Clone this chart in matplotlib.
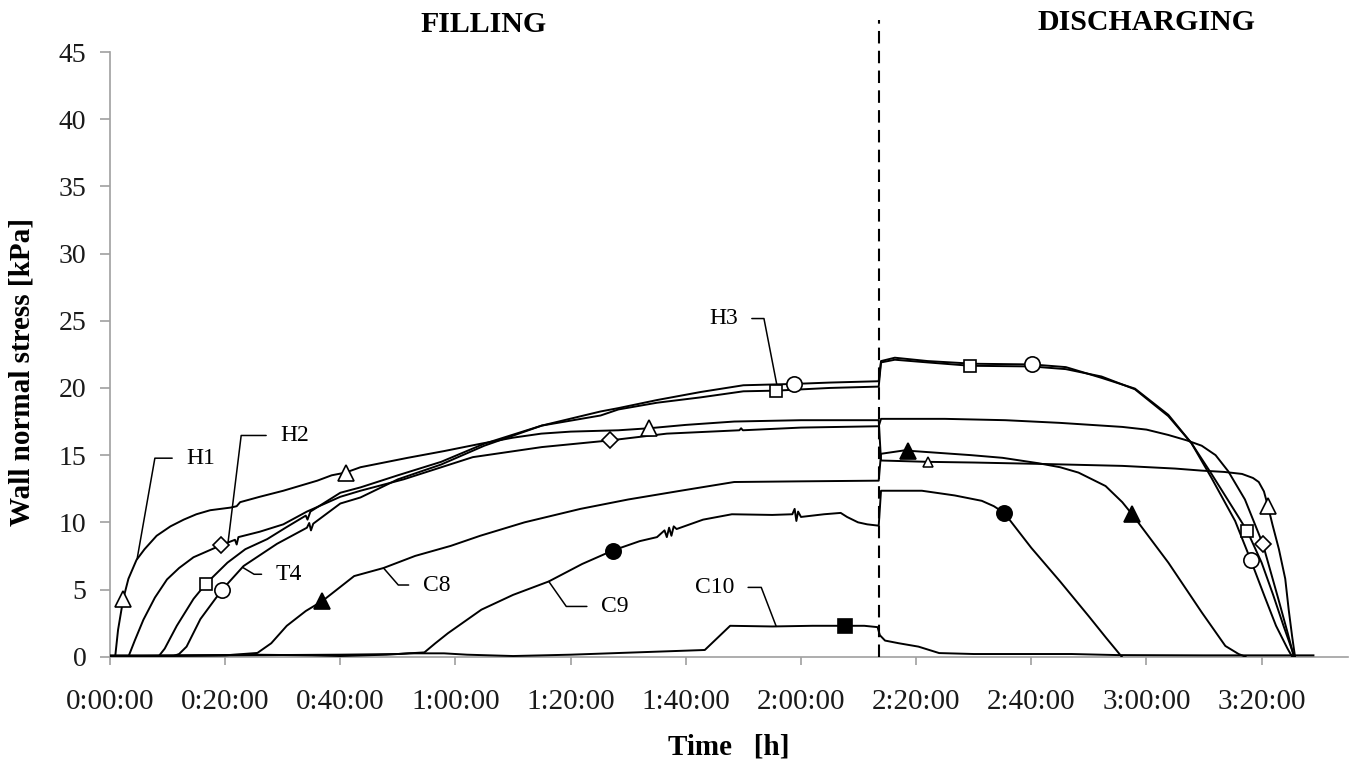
import numpy as np
import matplotlib.pyplot as plt
from matplotlib.ticker import FuncFormatter, MultipleLocator

plt.rcParams['font.family'] = ['Liberation Serif', 'DejaVu Serif']

# time in minutes from start of filling, wall normal stress in kPa
h1_t = [0.9, 1.4, 2.3, 3.2, 4.6, 6.0, 8.1, 10.5, 12.8, 15.0, 17.4, 21.0, 22.0, 22.6, 26.0,
        30.1, 36.0, 38.5, 40.9, 43.5, 51.7, 58.0, 64.4, 70.0, 74.9, 80.0, 88.3, 93.6, 100.0, 108.4,
        120.0, 133.5, 133.9, 142.1, 150.0, 161.2, 175.8, 185.0, 189.5, 193.5, 196.6, 198.5, 199.5,
        200.4, 201.1, 201.9, 203.0, 204.1, 204.7, 205.3, 205.8]
h1_v = [0.0, 2.0, 4.3, 5.8, 7.2, 8.0, 9.0, 9.7, 10.2, 10.6, 10.9, 11.1, 11.2, 11.5, 11.9,
        12.35, 13.1, 13.5, 13.7, 14.1, 14.8, 15.3, 15.85, 16.3, 16.6, 16.75, 16.85, 17.0, 17.25, 17.5,
        17.6, 17.6, 14.6, 14.5, 14.45, 14.35, 14.2, 14.0, 13.85, 13.75, 13.6, 13.3, 13.0,
        12.3, 11.2, 9.8, 8.0, 5.8, 3.5, 1.5, 0.0]

h2_t = [3.2, 4.3, 5.8, 7.8, 9.9, 12.0, 14.5, 19.3, 21.7, 22.0, 22.3, 26.0, 30.1, 34.2, 40.0,
        43.5, 51.0, 63.0, 75.0, 86.9, 96.7, 109.3, 109.6, 109.9, 120.0, 133.5, 133.9, 145.0, 155.5,
        165.0, 175.8, 180.0, 183.8, 187.0, 189.6, 192.0, 194.2, 197.1, 200.2, 202.9, 204.5, 205.6]
h2_v = [0.0, 1.2, 2.75, 4.4, 5.75, 6.6, 7.4, 8.3, 8.7, 8.35, 8.9, 9.3, 9.85, 10.8, 11.9,
        12.35, 13.2, 14.85, 15.6, 16.1, 16.6, 16.85, 17.0, 16.85, 17.05, 17.15, 17.7, 17.7, 17.6,
        17.4, 17.1, 16.9, 16.5, 16.1, 15.7, 15.0, 13.8, 11.7, 8.4, 4.3, 1.8, 0.0]

h3_t = [8.4, 9.5, 11.6, 14.5, 16.6, 20.4, 23.5, 27.3, 30.5, 34.0, 34.3, 34.8, 40.0, 43.5, 50.0,
        57.5, 65.0, 75.0, 85.2, 88.3, 95.0, 102.6, 110.0, 115.7, 125.0, 133.5, 133.9, 136.3, 142.0,
        149.4, 160.0, 166.0, 172.2, 178.0, 183.8, 187.8, 191.3, 195.4, 197.5, 200.0, 202.0, 203.8,
        205.2, 205.7]
h3_v = [0.0, 0.6, 2.3, 4.3, 5.4, 7.0, 8.0, 8.75, 9.6, 10.5, 10.2, 10.8, 12.2, 12.6, 13.5,
        14.5, 15.85, 17.2, 17.95, 18.4, 18.9, 19.3, 19.75, 19.8, 20.0, 20.1, 21.9, 22.1, 21.9,
        21.65, 21.6, 21.4, 20.85, 19.9, 17.9, 15.9, 13.6, 10.8, 9.35, 7.0, 4.6, 2.3,
        0.6, 0.0]

t4_t = [10.7, 12.0, 13.3, 15.7, 19.4, 23.2, 29.0, 34.2, 34.6, 34.9, 35.3, 40.0, 43.5, 50.0, 57.5,
        65.0, 75.0, 85.2, 88.3, 95.0, 102.6, 110.0, 118.8, 125.0, 133.5, 133.9, 136.3, 142.0, 150.0,
        160.1, 166.0, 172.2, 178.0, 183.8, 187.8, 191.3, 195.4, 198.1, 200.5, 202.5, 204.5, 205.3]
t4_v = [0.0, 0.2, 0.75, 2.8, 4.95, 6.75, 8.4, 9.6, 9.95, 9.4, 9.9, 11.4, 11.85, 13.2, 14.3,
        15.7, 17.2, 18.25, 18.5, 19.1, 19.7, 20.2, 20.3, 20.4, 20.5, 22.0, 22.25, 22.0, 21.8,
        21.75, 21.55, 20.75, 19.95, 18.0, 15.9, 13.3, 10.1, 7.2, 4.5, 2.3, 0.6, 0.0]

c8_t = [0, 10, 20, 25.6, 28.0, 30.7, 34.0, 36.9, 42.4, 47.5, 53.0, 59.2, 64.3, 72.0, 81.7,
        90.0, 99.1, 108.4, 120.0, 133.5, 133.9, 137.9, 149.5, 155.0, 161.2, 165.0, 168.2, 172.9,
        175.8, 177.5, 183.8, 189.6, 193.7, 196.0, 197.2]
c8_v = [0.05, 0.05, 0.1, 0.28, 1.0, 2.3, 3.4, 4.15, 6.0, 6.6, 7.5, 8.25, 9.0, 10.0, 11.0,
        11.7, 12.35, 13.0, 13.05, 13.1, 15.1, 15.35, 15.0, 14.8, 14.4, 14.1, 13.7, 12.7,
        11.5, 10.6, 7.0, 3.3, 0.8, 0.2, 0.0]

c9_t = [0, 20, 40, 50, 54.6, 56.5, 58.7, 64.5, 70.0, 76.2, 82.0, 87.3, 92.0, 95.0, 96.3,
        96.7, 97.1, 97.5, 97.9, 98.4, 103.0, 108.0, 115.0, 118.5, 118.9, 119.2, 119.5, 120.0, 124.0,
        126.9, 128.0, 129.9, 131.5, 133.5, 133.9, 141.0, 146.7, 151.4, 153.5, 155.3, 160.0, 165.0,
        170.0, 173.0, 175.7]
c9_v = [0.1, 0.1, 0.15, 0.2, 0.32, 1.0, 1.75, 3.5, 4.6, 5.6, 6.9, 7.9, 8.6, 8.9, 9.4,
        8.9, 9.6, 9.0, 9.7, 9.5, 10.2, 10.6, 10.55, 10.6, 11.0, 10.1, 10.8, 10.4, 10.6,
        10.7, 10.4, 10.0, 9.85, 9.75, 12.35, 12.35, 12.0, 11.6, 11.2, 10.7, 8.1, 5.6,
        3.0, 1.4, 0.0]

c10_t = [0, 5, 15, 25, 35, 40, 48, 52, 58, 62, 70, 80, 90, 100, 103.3,
         107.7, 115.0, 122.0, 127.6, 131.0, 133.3, 133.7, 134.6, 137.0, 140.4, 144.0, 150.0, 167.0,
         175.0, 190.0, 209.0]
c10_v = [0.0, 0.05, 0.1, 0.15, 0.1, 0.05, 0.15, 0.25, 0.25, 0.15, 0.05, 0.15, 0.3, 0.45, 0.5,
         2.3, 2.25, 2.3, 2.3, 2.3, 2.2, 1.6, 1.2, 1.0, 0.75, 0.27, 0.2, 0.2,
         0.12, 0.1, 0.1]

# times where the symbols sit on each curve
h1_marks = [2.3, 40.9, 93.6, 201.1]
h1_small = [142.1]
h2_marks = [19.3, 86.9, 200.2]
h3_marks = [16.6, 115.7, 149.4, 197.5]
t4_marks = [19.4, 118.8, 160.1, 198.1]
c8_marks = [36.9, 138.6, 177.5]
c9_marks = [87.3, 155.3]
c10_marks = [127.6]

discharge_start = 133.5

fig = plt.figure(figsize=(13.58, 7.69), dpi=100)
ax = fig.add_axes([110 / 1358, 1 - 656.7 / 769, 1238 / 1358, 604.7 / 769])

series = [
    (h1_t, h1_v, h1_marks, '^', 'white', 11),
    (h2_t, h2_v, h2_marks, 'D', 'white', 8),
    (h3_t, h3_v, h3_marks, 's', 'white', 9),
    (t4_t, t4_v, t4_marks, 'o', 'white', 11),
    (c8_t, c8_v, c8_marks, '^', 'black', 11),
    (c9_t, c9_v, c9_marks, 'o', 'black', 11),
    (c10_t, c10_v, c10_marks, 's', 'black', 10),
]
for ts, vs, marks, mk, face, size in series:
    ax.plot(ts, vs, color='black', lw=1.4, zorder=3)
    ax.plot(marks, np.interp(marks, ts, vs), linestyle='none', marker=mk, ms=size,
            mfc=face, mec='black', mew=1.2, zorder=5)
ax.plot(h1_small, np.interp(h1_small, h1_t, h1_v), linestyle='none', marker='^', ms=7,
        mfc='white', mec='black', mew=1.1, zorder=5)

ax.axvline(discharge_start, ymin=0, ymax=1.053, color='black', lw=1.5,
           linestyle=(0, (6, 3.5)), clip_on=False, zorder=4)

# curve labels with leader lines: (text, times, values, t on curve, dx, dy, ha, leader angle)
labels = [
    ('H1', h1_t, h1_v, 4.7, 49, 101, 'left', 80),
    ('H2', h2_t, h2_v, 20.5, 52, 107, 'left', 83),
    ('T4', t4_t, t4_v, 23.0, 33, -7, 'left', -31),
    ('H3', h3_t, h3_v, 116.0, -40, 72, 'right', 101),
    ('C8', c8_t, c8_v, 47.5, 39, -17, 'left', -49),
    ('C9', c9_t, c9_v, 76.2, 52, -25, 'left', -55),
    ('C10', c10_t, c10_v, 115.7, -42, 39, 'right', 111),
]
for name, ts, vs, t, dx, dy, ha, ang in labels:
    ax.annotate(name, xy=(t, np.interp(t, ts, vs)), xytext=(dx, dy),
                textcoords='offset pixels', ha=ha, va='center', fontsize=17,
                arrowprops=dict(arrowstyle='-', color='black', lw=1.1, shrinkA=8, shrinkB=0,
                                connectionstyle=f'angle,angleA=0,angleB={ang},rad=0'))

ax.set_xlim(0, 215)
ax.set_ylim(0, 45)
ax.xaxis.set_major_locator(MultipleLocator(20))
ax.yaxis.set_major_locator(MultipleLocator(5))
ax.xaxis.set_major_formatter(FuncFormatter(lambda m, p: f'{int(m) // 60}:{int(m) % 60:02d}:00'))

for side in ['top', 'right']:
    ax.spines[side].set_visible(False)
for side in ['left', 'bottom']:
    ax.spines[side].set_color('#a0a0a0')
    ax.spines[side].set_linewidth(1.2)
ax.tick_params(axis='both', direction='out', color='#a0a0a0', width=1.2, labelcolor='#1a1a1a')
ax.tick_params(axis='x', length=6, pad=17, labelsize=21)
ax.tick_params(axis='y', length=7, pad=10, labelsize=20)

fig.text(22 / 1358, 1 - 372 / 769, 'Wall normal stress [kPa]', rotation=90, ha='center',
         va='center', fontsize=21, fontweight='bold')
fig.text(729 / 1358, 1 - 747 / 769, 'Time   [h]', ha='center', va='center', fontsize=21,
         fontweight='bold')
fig.text(484 / 1358, 1 - 25 / 769, 'FILLING', ha='center', va='center', fontsize=21.5,
         fontweight='bold')
fig.text(1146 / 1358, 1 - 23 / 769, 'DISCHARGING', ha='center', va='center', fontsize=21.5,
         fontweight='bold')

fig.savefig('out.png', dpi=100)
